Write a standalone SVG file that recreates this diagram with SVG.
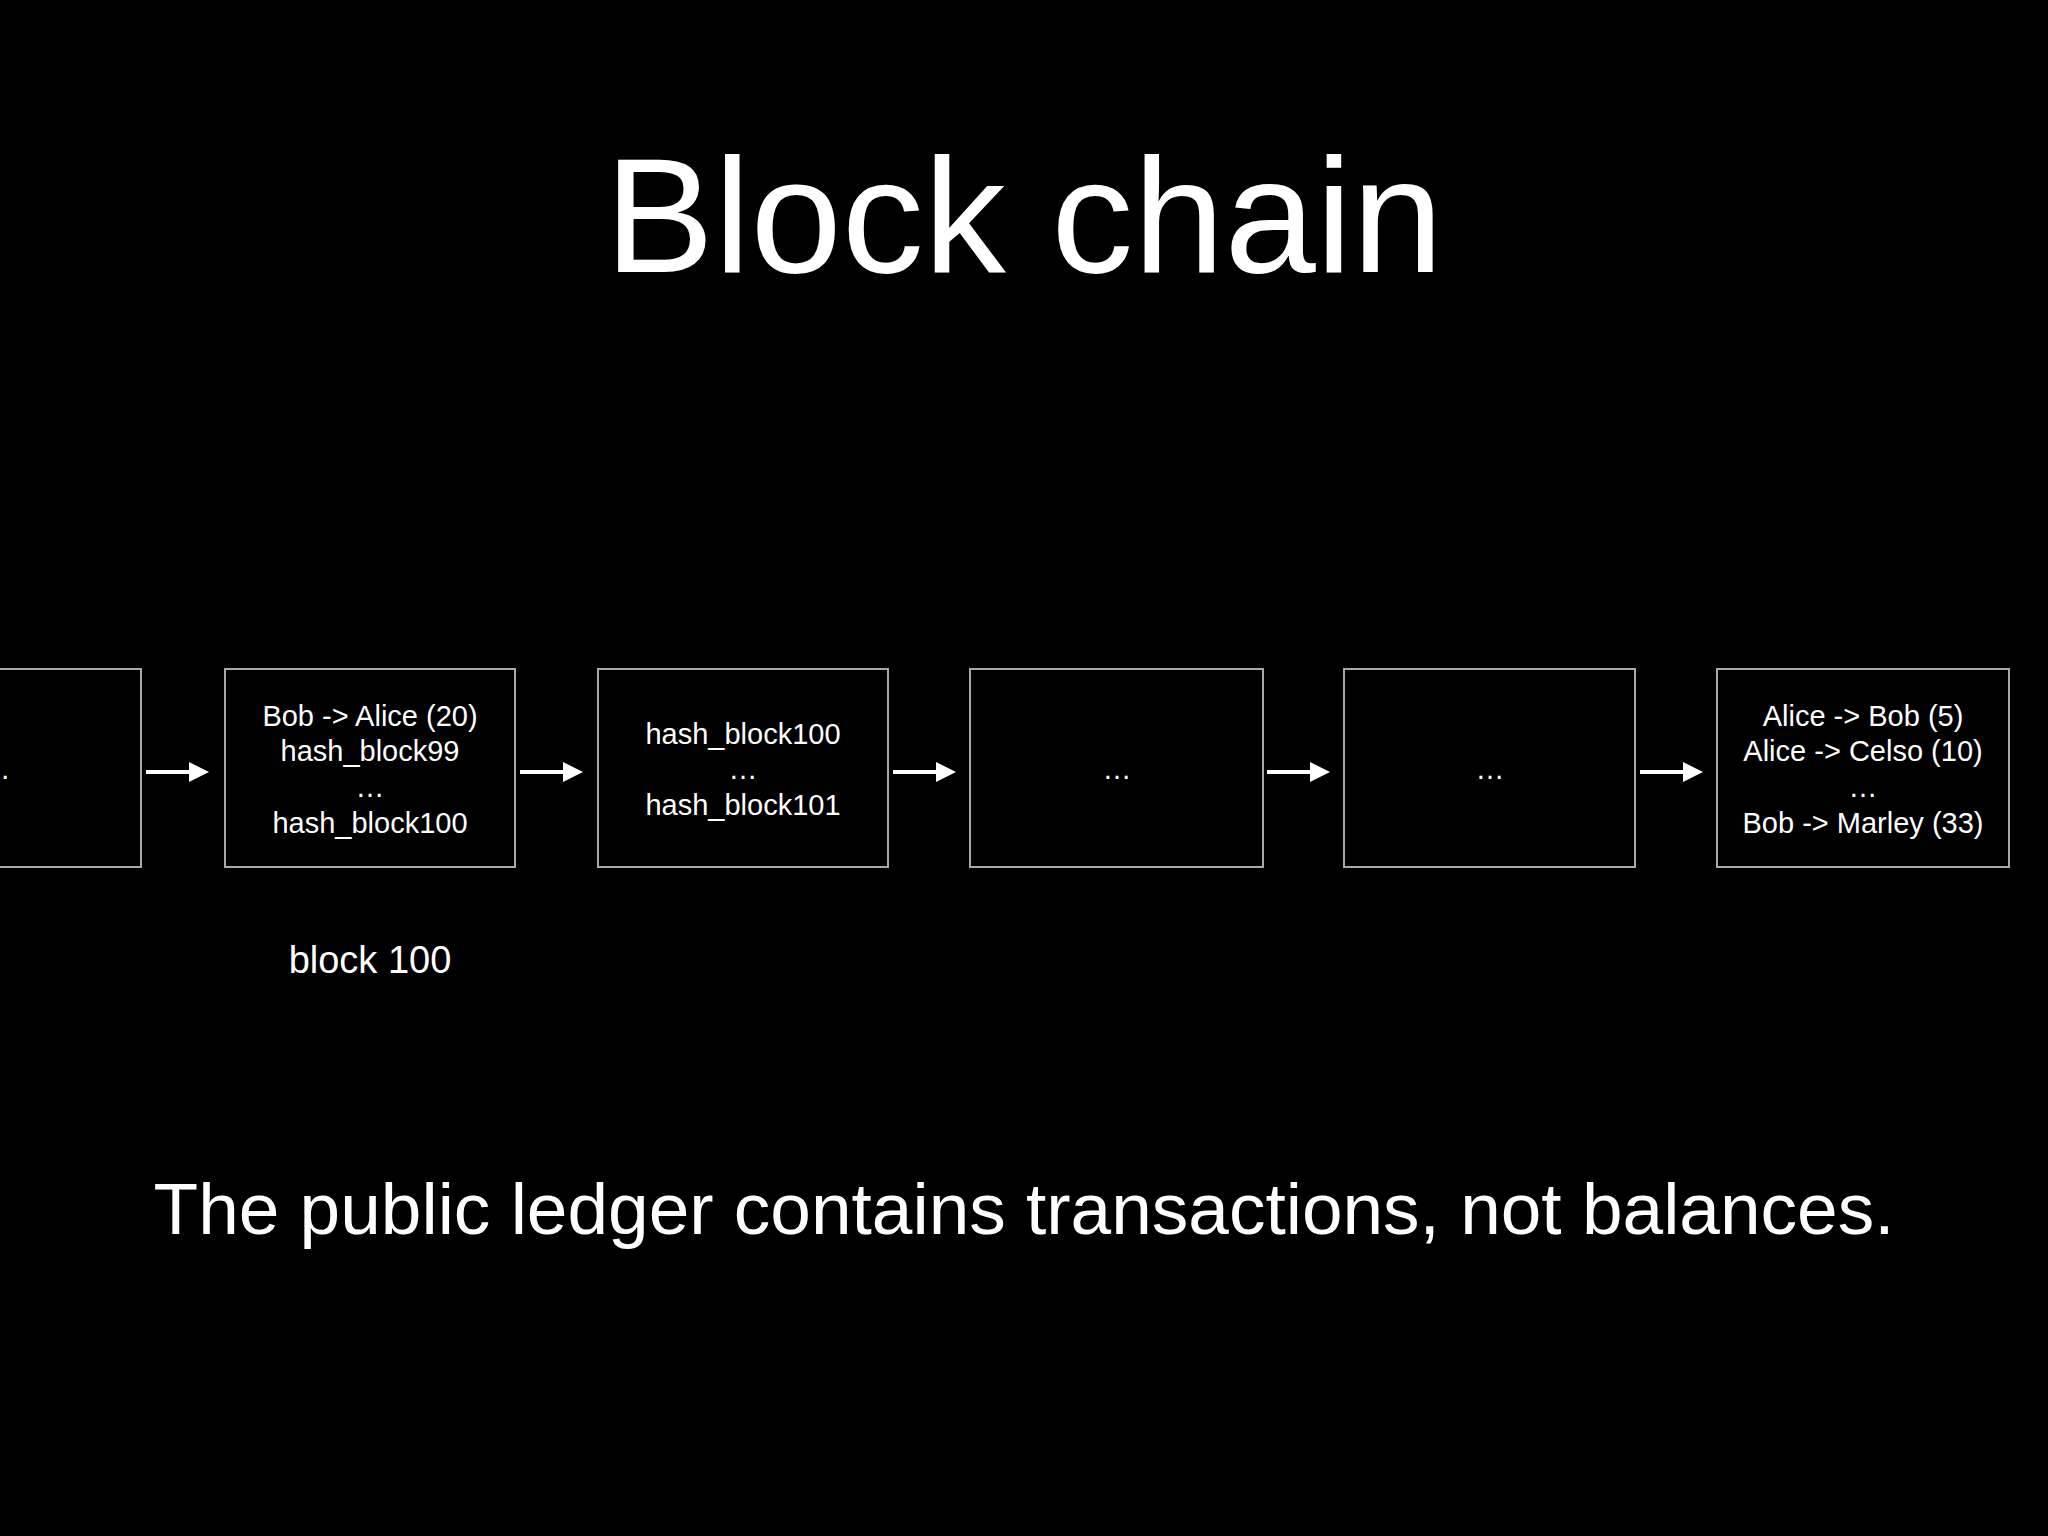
<svg xmlns="http://www.w3.org/2000/svg" width="2048" height="1536" viewBox="0 0 2048 1536">
<style>
text{font-family:"Liberation Sans","Helvetica Neue",Arial,sans-serif;fill:#fff;text-anchor:middle}
.b{fill:none;stroke:#a8a8a8;stroke-width:2}
.t{font-size:29px}
.c{stroke:#fff;stroke-width:4;fill:none}
</style>
<defs><marker id="a" markerWidth="5" markerHeight="5" refX="4" refY="2.5" orient="auto" markerUnits="strokeWidth"><path d="M0,0 L5,2.5 L0,5 Z" fill="#fff"/></marker></defs>
<rect width="2048" height="1536" fill="#000"/>
<text x="1024" y="272" font-size="164">Block chain</text>
<g id="n0"><rect class="b" x="-149" y="669" width="290" height="198"/><text class="t" x="-4" y="779">…</text></g>
<g id="n1"><rect class="b" x="225" y="669" width="290" height="198"/>
<text class="t" x="370" y="726">Bob -&gt; Alice (20)</text><text class="t" x="370" y="761">hash_block99</text><text class="t" x="370" y="797">…</text><text class="t" x="370" y="833">hash_block100</text></g>
<g id="n2"><rect class="b" x="598" y="669" width="290" height="198"/>
<text class="t" x="743" y="744">hash_block100</text><text class="t" x="743" y="779">…</text><text class="t" x="743" y="815">hash_block101</text></g>
<g id="n3"><rect class="b" x="970" y="669" width="293" height="198"/><text class="t" x="1117" y="779">…</text></g>
<g id="n4"><rect class="b" x="1344" y="669" width="291" height="198"/><text class="t" x="1490" y="779">…</text></g>
<g id="n5"><rect class="b" x="1717" y="669" width="292" height="198"/>
<text class="t" x="1863" y="726">Alice -&gt; Bob (5)</text><text class="t" x="1863" y="761">Alice -&gt; Celso (10)</text><text class="t" x="1863" y="797">…</text><text class="t" x="1863" y="833">Bob -&gt; Marley (33)</text></g>
<g id="connectors">
<path class="c" d="M146,772 H205" marker-end="url(#a)"/>
<path class="c" d="M520,772 H579" marker-end="url(#a)"/>
<path class="c" d="M893,772 H952" marker-end="url(#a)"/>
<path class="c" d="M1267,772 H1326" marker-end="url(#a)"/>
<path class="c" d="M1640,772 H1699" marker-end="url(#a)"/>
</g>
<text x="370" y="973" font-size="38">block 100</text>
<text x="1024" y="1234" font-size="73">The public ledger contains transactions, not balances.</text>
</svg>
